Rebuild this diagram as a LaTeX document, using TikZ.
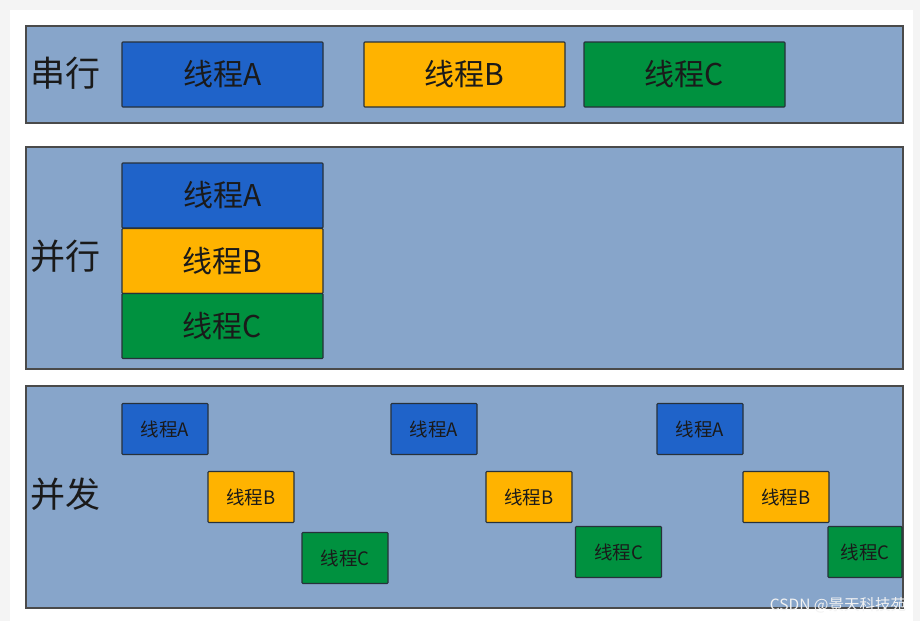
\documentclass[tikz,border=0pt]{standalone}
\usepackage{fontspec}
\newfontfamily\cjk{Noto Sans CJK SC}
\definecolor{pagebg}{HTML}{F4F4F4}
\definecolor{panelbg}{HTML}{87A5CA}
\definecolor{panelline}{HTML}{4A4A4A}
\definecolor{blueA}{HTML}{1F63C9}
\definecolor{orangeB}{HTML}{FFB300}
\definecolor{greenC}{HTML}{00913F}
\definecolor{boxline}{HTML}{27313A}
\definecolor{txt}{HTML}{1A1A1A}
\tikzset{
  panel/.style={draw=panelline, fill=panelbg, line width=1.2pt},
  tbox/.style={draw=boxline, line width=1.1pt, rounded corners=0.8pt, inner sep=0pt, text=txt, font=\cjk},
  bigbox/.style={tbox, minimum width=201pt, minimum height=65pt, font=\cjk\fontsize{30}{31}\selectfont},
  smallbox/.style={tbox, minimum width=86pt, minimum height=51pt, font=\cjk\fontsize{18.5}{19}\selectfont},
  lbl/.style={text=txt, inner sep=0pt, font=\cjk\fontsize{35}{36}\selectfont},
  bA/.style={fill=blueA}, bB/.style={fill=orangeB}, bC/.style={fill=greenC}
}
\begin{document}
\begin{tikzpicture}[x=1pt,y=-1pt]
\useasboundingbox (0,0) rectangle (920,621);
\fill[pagebg] (0,0) rectangle (920,621);
\fill[white] (10,10) rectangle (913,621);
% panels
\draw[panel] (26,26) rectangle (903,123);
\draw[panel] (26,147) rectangle (903,369);
\draw[panel] (26,386) rectangle (903,608);
% labels
\node[lbl] (l1) at (65,73) {串行};
\node[lbl] (l2) at (65,256) {并行};
\node[lbl] (l3) at (65,494) {并发};
% serial
\node[bigbox,bA] (sA) at (222.5,74.5) {线程A};
\node[bigbox,bB] (sB) at (464.5,74.5) {线程B};
\node[bigbox,bC] (sC) at (684.5,74.5) {线程C};
% parallel
\node[bigbox,bA] (pA) at (222.5,195.5) {线程A};
\node[bigbox,bB] (pB) at (222.5,261) {线程B};
\node[bigbox,bC] (pC) at (222.5,326) {线程C};
% concurrent
\node[smallbox,bA] (cA1) at (165,429) {线程A};
\node[smallbox,bB] (cB1) at (251,497) {线程B};
\node[smallbox,bC] (cC1) at (345,558) {线程C};
\node[smallbox,bA] (cA2) at (434,429) {线程A};
\node[smallbox,bB] (cB2) at (529,497) {线程B};
\node[smallbox,bC] (cC2) at (618.5,552) {线程C};
\node[smallbox,bA] (cA3) at (700,429) {线程A};
\node[smallbox,bB] (cB3) at (786,497) {线程B};
\node[smallbox,bC,minimum width=74pt] (cC3) at (865,552) {线程C};
% watermark
\node[text=white!90!gray, inner sep=0pt, font=\cjk\fontsize{15.5}{16}\selectfont] (wm) at (838,605) {CSDN @景天科技苑};
\end{tikzpicture}
\end{document}
